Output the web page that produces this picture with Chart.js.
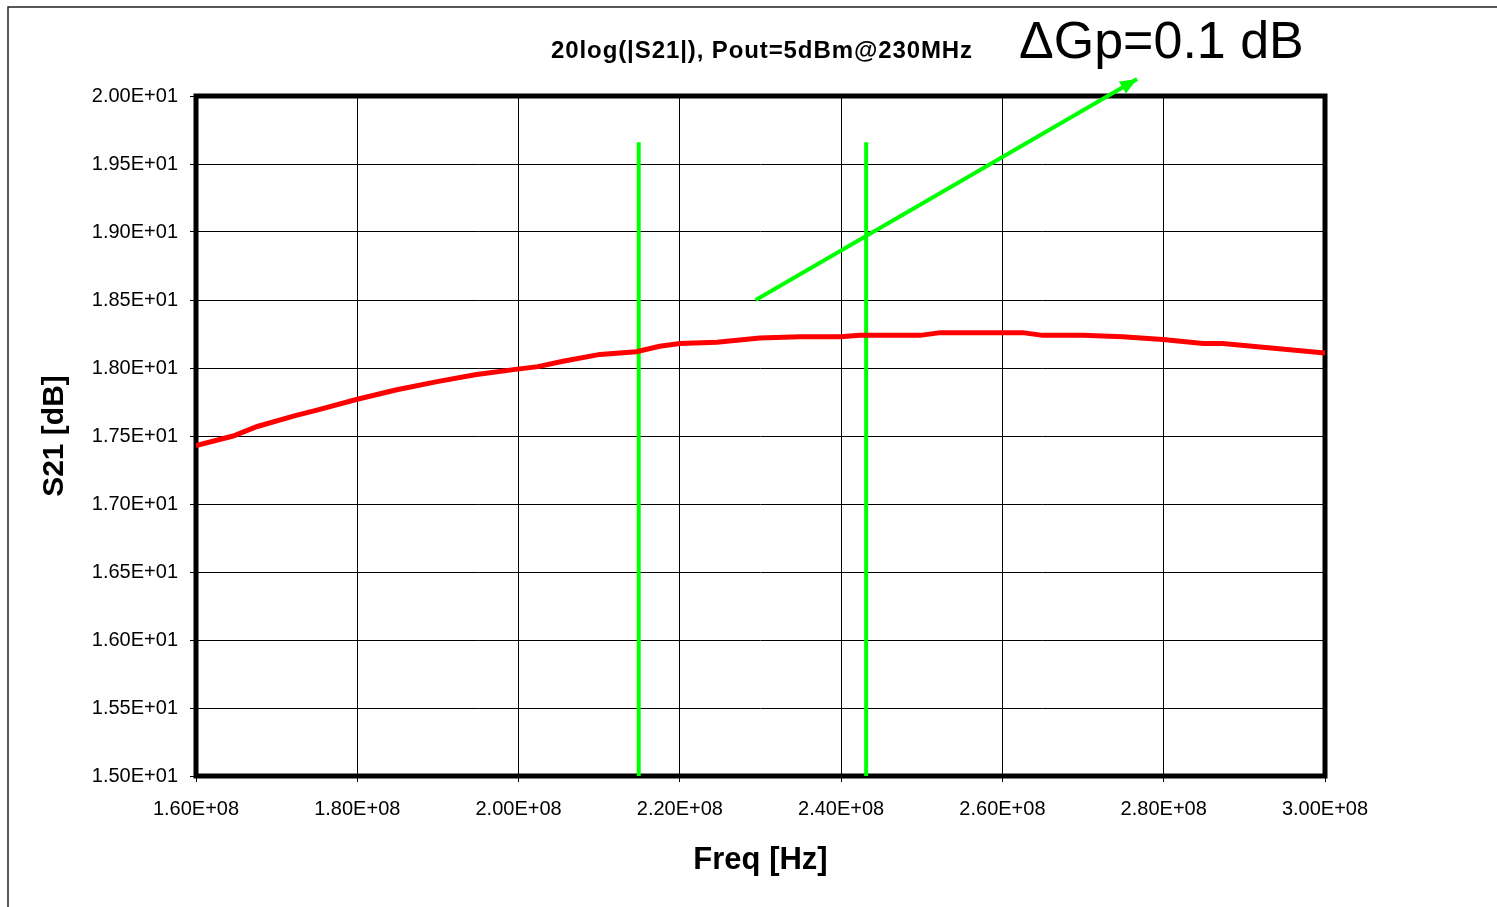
<!DOCTYPE html>
<html>
<head>
<meta charset="utf-8">
<script src="https://cdn.jsdelivr.net/npm/chart.js@4/dist/chart.umd.min.js"></script>
<style>
  html, body { margin: 0; padding: 0; background: #fff; }
  #wrap { position: relative; width: 1497px; height: 907px; }
</style>
</head>
<body>
<div id="wrap"><canvas id="s21Chart"></canvas></div>
<script>
// measured S21 curve (Hz, dB)
const freqHz = [1.600e8, 1.646e8, 1.676e8, 1.723e8, 1.750e8, 1.800e8, 1.849e8, 1.899e8, 1.946e8, 1.996e8,
                2.024e8, 2.055e8, 2.101e8, 2.146e8, 2.175e8, 2.200e8, 2.246e8, 2.299e8, 2.349e8, 2.399e8,
                2.423e8, 2.498e8, 2.523e8, 2.597e8, 2.625e8, 2.650e8, 2.700e8, 2.749e8, 2.799e8, 2.849e8,
                2.873e8, 3.000e8];
const s21dB = [17.43, 17.50, 17.57, 17.65, 17.69, 17.77, 17.84, 17.90, 17.95, 17.99,
               18.01, 18.05, 18.10, 18.12, 18.16, 18.18, 18.19, 18.22, 18.23, 18.23,
               18.24, 18.24, 18.26, 18.26, 18.26, 18.24, 18.24, 18.23, 18.21, 18.18,
               18.18, 18.11];

// green markers
const markerFreqs = [2.149e8, 2.431e8];
const markerRange = [15.0, 19.66];
const arrowFreqs = [2.294e8, 2.767e8];
const arrowGain = [18.5, 20.125];

const chartTitle = '20log(|S21|), Pout=5dBm@230MHz';
const noteText = '\u0394Gp=0.1 dB';

const FONT = "'Liberation Sans', Arial, sans-serif";

function sci(v) {
    const s = Number(v).toExponential(2).toUpperCase(); // e.g. 2.00E+1
    const m = s.split('E');
    const sign = m[1][0];
    const exp = m[1].slice(1).padStart(2, '0');
    return m[0] + 'E' + sign + exp;
}

const decorPlugin = {
    id: 'decor',
    beforeDraw(chart) {
        const ctx = chart.ctx;
        ctx.save();
        // outer frame (left + top only visible)
        ctx.strokeStyle = '#222';
        ctx.lineWidth = 1.5;
        ctx.beginPath();
        ctx.moveTo(8, 907);
        ctx.lineTo(8, 7);
        ctx.lineTo(1497, 7);
        ctx.stroke();
        ctx.restore();
    },
    beforeDatasetsDraw(chart) {
        const { ctx, chartArea: a } = chart;
        ctx.save();
        ctx.strokeStyle = '#000';
        ctx.lineWidth = 5;
        ctx.strokeRect(a.left, a.top, a.right - a.left, a.bottom - a.top);
        ctx.restore();
    },
    afterDatasetsDraw(chart) {
        const { ctx, scales: { x, y } } = chart;
        // arrow head at the end of the arrow line
        const x0 = x.getPixelForValue(arrowFreqs[0]), y0 = y.getPixelForValue(arrowGain[0]);
        const x1 = x.getPixelForValue(arrowFreqs[1]), y1 = y.getPixelForValue(arrowGain[1]);
        const ang = Math.atan2(y1 - y0, x1 - x0);
        const len = 17, half = 7;
        ctx.save();
        ctx.fillStyle = '#00ff00';
        ctx.translate(x1, y1);
        ctx.rotate(ang);
        ctx.beginPath();
        ctx.moveTo(0, 0);
        ctx.lineTo(-len, -half);
        ctx.lineTo(-len, half);
        ctx.closePath();
        ctx.fill();
        ctx.restore();

        // title and note
        ctx.save();
        ctx.fillStyle = '#000';
        ctx.textBaseline = 'alphabetic';
        ctx.textAlign = 'center';
        ctx.font = 'bold 24px ' + FONT;
        ctx.letterSpacing = '0.9px';
        ctx.fillText(chartTitle, 762, 58);
        ctx.letterSpacing = '0px';
        ctx.textAlign = 'left';
        ctx.font = '52px ' + FONT;
        ctx.fillText(noteText, 1019, 58);
        ctx.restore();
    }
};

const ctx = document.getElementById('s21Chart');
new Chart(ctx, {
    type: 'scatter',
    data: {
        datasets: [
            {
                label: 'S21',
                data: freqHz.map((f, i) => ({ x: f, y: s21dB[i] })),
                showLine: true,
                borderColor: '#ff0000',
                borderWidth: 5,
                pointRadius: 0,
                tension: 0
            },
            {
                label: 'm1',
                data: markerRange.map(v => ({ x: markerFreqs[0], y: v })),
                showLine: true,
                borderColor: '#00ff00',
                borderWidth: 4,
                pointRadius: 0
            },
            {
                label: 'm2',
                data: markerRange.map(v => ({ x: markerFreqs[1], y: v })),
                showLine: true,
                borderColor: '#00ff00',
                borderWidth: 4,
                pointRadius: 0
            },
            {
                label: 'arrow',
                data: arrowFreqs.map((f, i) => ({ x: f, y: arrowGain[i] })),
                showLine: true,
                borderColor: '#00ff00',
                borderWidth: 4,
                pointRadius: 0,
                clip: false
            }
        ]
    },
    options: {
        responsive: true,
        maintainAspectRatio: false,
        animation: false,
        layout: { padding: { left: 0, top: 96, right: 172, bottom: 0 } },
        plugins: {
            legend: { display: false },
            tooltip: { enabled: false },
            title: { display: false }
        },
        scales: {
            x: {
                type: 'linear',
                min: 1.6e8,
                max: 3.0e8,
                afterFit(s) { s.height = 131; },
                border: { display: false },
                grid: { color: '#000', lineWidth: 1, tickLength: 6, tickColor: '#000', tickWidth: 1 },
                ticks: {
                    stepSize: 2e7,
                    color: '#000',
                    padding: 15,
                    maxRotation: 0,
                    font: { family: FONT, size: 20 },
                    callback: v => sci(v)
                },
                title: {
                    display: true,
                    text: 'Freq [Hz]',
                    color: '#000',
                    font: { family: FONT, size: 31, weight: 'bold' },
                    padding: { top: 0, bottom: 28 }
                }
            },
            y: {
                type: 'linear',
                min: 15,
                max: 20,
                afterFit(s) { s.width = 196; },
                border: { display: false },
                grid: { color: '#000', lineWidth: 1, tickLength: 6, tickColor: '#000', tickWidth: 1 },
                ticks: {
                    stepSize: 0.5,
                    color: '#000',
                    padding: 12,
                    font: { family: FONT, size: 20 },
                    callback: v => sci(v)
                },
                title: {
                    display: true,
                    text: 'S21 [dB]',
                    color: '#000',
                    font: { family: FONT, size: 30, weight: 'bold' },
                    padding: { top: 37, bottom: 0 }
                }
            }
        }
    },
    plugins: [decorPlugin]
});
</script>
</body>
</html>
